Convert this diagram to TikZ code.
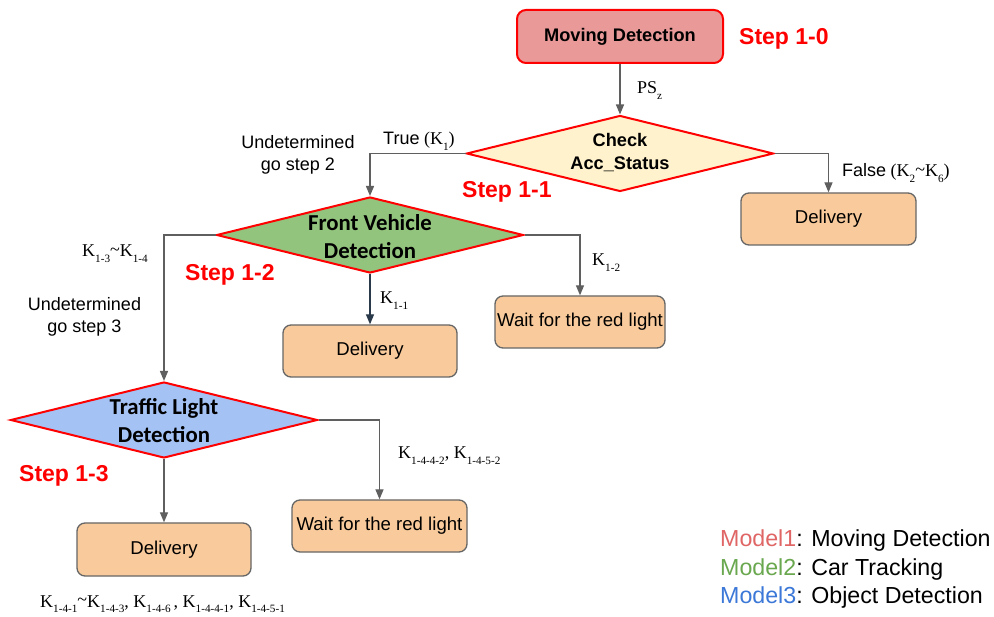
\documentclass[tikz,border=0pt]{standalone}
\usepackage{fontspec}
\setmainfont{Liberation Sans}
\newfontfamily\tms{Liberation Serif}
\newfontfamily\calib{Carlito}
\usetikzlibrary{arrows.meta,shapes.geometric}
\definecolor{redB}{HTML}{FF0000}
\definecolor{stepred}{HTML}{FF0000}
\definecolor{mdfill}{HTML}{EA9999}
\definecolor{chkfill}{HTML}{FFF2CC}
\definecolor{fvfill}{HTML}{93C47D}
\definecolor{tlfill}{HTML}{A4C2F4}
\definecolor{boxfill}{HTML}{F9CB9C}
\definecolor{boxdraw}{HTML}{666666}
\definecolor{conncol}{HTML}{5F5F5F}
\definecolor{darkconn}{HTML}{2B3A4A}
\definecolor{mone}{HTML}{E06666}
\definecolor{mtwo}{HTML}{6AA84F}
\definecolor{mthree}{HTML}{3C78D8}
\newcommand{\KK}[1]{K\raisebox{-5.5pt}{\fontsize{11.2}{12}\selectfont #1}}
\newcommand{\tld}{\raisebox{1.5pt}{\textasciitilde}}
\begin{document}
\begin{tikzpicture}[x=1pt,y=-1pt,
  dia/.style={diamond, draw=redB, line width=2pt, inner sep=0pt, minimum width=307pt, minimum height=76pt},
  dtext/.style={align=center, font=\fontsize{18.2}{23}\selectfont\bfseries},
  ctext/.style={align=center, font=\calib\fontsize{22.8}{28}\selectfont\bfseries},
  obox/.style={rectangle, rounded corners=8pt, draw=boxdraw, line width=1.3pt, fill=boxfill, inner sep=0pt, minimum width=174pt, minimum height=52pt, font=\fontsize{18.6}{22}\selectfont},
  conn/.style={draw=conncol, line width=1.3pt, -{Triangle[length=10pt,width=8pt]}},
  lbl/.style={anchor=base west, inner sep=0pt, font=\tms\fontsize{18}{20}\selectfont},
  stxt/.style={anchor=base west, inner sep=0pt, text=stepred, font=\fontsize{23}{27}\selectfont\bfseries},
  ntxt/.style={align=center, inner sep=0pt, font=\fontsize{18}{22}\selectfont},
  lgd/.style={anchor=base west, inner sep=0pt, font=\fontsize{23.2}{28}\selectfont}
]
\path[use as bounding box, fill=white] (0,0) rectangle (994,617);

% nodes
\node[rectangle, rounded corners=9pt, draw=redB, line width=2pt, fill=mdfill, minimum width=206pt, minimum height=53pt, inner sep=0pt, font=\fontsize{18.2}{22}\selectfont\bfseries] (md) at (620,36.5) {Moving Detection};

\node[dia, fill=chkfill] (chk) at (620,153.5) {};
\node[dtext] (chkt) at (620,153) {Check\\Acc\_Status};

\node[dia, fill=fvfill] (fv) at (370,235) {};
\node[ctext] (fvt) at (370,237) {Front Vehicle\\Detection};

\node[dia, fill=tlfill] (tl) at (164,420) {};
\node[ctext] (tlt) at (164,421) {Traffic Light\\Detection};

\node[obox, minimum width=175pt] (del1) at (828.5,219) {Delivery};
\node[obox] (del2) at (370,351) {Delivery};
\node[obox, minimum width=170pt] (wait1) at (580,322) {Wait for the red light};
\node[obox, minimum height=53pt] (del3) at (164,549.5) {Delivery};
\node[obox, minimum width=175pt] (wait2) at (379.5,526) {Wait for the red light};

% connectors
\draw[conn] (md.south) -- (chk.north);
\draw[conn] (chk.west) -| (fv.north);
\draw[conn] (chk.east) -| (del1.north);
\draw[conn] (fv.west) -| (tl.north);
\draw[conn, draw=darkconn] (fv.south) -- (del2.north);
\draw[conn] (fv.east) -| (wait1.north);
\draw[conn] (tl.south) -- (del3.north);
\draw[conn] (tl.east) -| (wait2.north);

% labels
\node[lbl] (lps) at (637,94) {PS\raisebox{-5.5pt}{\fontsize{11.2}{12}\selectfont z}};
\node[lbl] (ltrue) at (383,145) {{\rmfamily\fontsize{18}{20}\selectfont True} (\KK{1})};
\node[lbl] (lfalse) at (842,177) {{\rmfamily\fontsize{18}{20}\selectfont False} (\KK{2}\tld\KK{6})};
\node[lbl] (l13) at (82,257) {\KK{1-3}\tld\KK{1-4}};
\node[lbl] (l11) at (380,304) {\KK{1-1}};
\node[lbl] (l12) at (592,266) {\KK{1-2}};
\node[lbl] (l1442) at (398,459) {\KK{1-4-4-2}, \KK{1-4-5-2}};
\node[lbl] (lbot) at (40,607) {\KK{1-4-1}\tld\KK{1-4-3}, \KK{1-4-6}\,, \KK{1-4-4-1}, \KK{1-4-5-1}};

\node[ntxt] (und2) at (298,155) {Undetermined\\go step 2};
\node[ntxt] (und3) at (84.5,317) {Undetermined\\go step 3};

\node[stxt] (s10) at (739,45) {Step 1-0};
\node[stxt] (s11) at (462,198) {Step 1-1};
\node[stxt] (s12) at (185,281) {Step 1-2};
\node[stxt] (s13) at (19,482) {Step 1-3};

\node[lgd] (lg1) at (720,547) {\textcolor{mone}{Model1}: Moving Detection};
\node[lgd] (lg2) at (720,575) {\textcolor{mtwo}{Model2}: Car Tracking};
\node[lgd] (lg3) at (720,603) {\textcolor{mthree}{Model3}: Object Detection};
\end{tikzpicture}
\end{document}
